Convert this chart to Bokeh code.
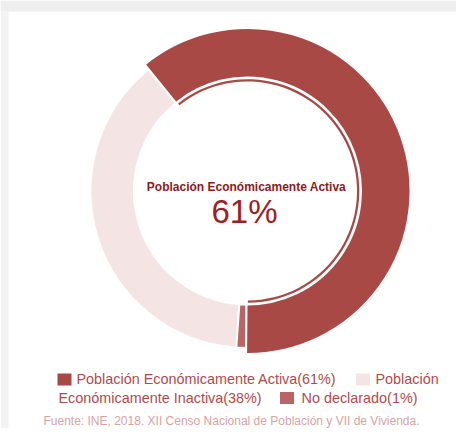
import numpy as np
from bokeh.plotting import figure
from bokeh.models import Range1d
from bokeh.core.properties import value
from bokeh.embed import file_html
from bokeh.resources import INLINE

# ---- data ----
categories = ["Población Económicamente Activa", "Población Económicamente Inactiva", "No declarado"]
values = [61, 38, 1]
colors = ["#a84945", "#f5e4e4", "#b96465"]
center_label = "Población Económicamente Activa"
center_value = "61%"
source_text = "Fuente: INE, 2018. XII Censo Nacional de Población y VII de Vivienda."

# ---- layout (pixel-like coordinates measured from the top-left) ----
W, H = 456, 428
def Y(py):
    return H - py

p = figure(width=W, height=H, output_backend="svg", toolbar_location=None,
           x_range=Range1d(0, W), y_range=Range1d(0, H),
           min_border=0, outline_line_color=None, background_fill_color="white",
           border_fill_color="white")
p.axis.visible = False
p.grid.visible = False

# grey page strips (card shadow area)
p.quad(left=0, right=W, bottom=Y(11), top=Y(0), fill_color="#eeeeee", line_color=None)
p.quad(left=0, right=8, bottom=Y(H), top=Y(11), fill_color="#f3f3f3", line_color=None)

# ---- donut ----
cx, cy = 247, Y(190.5)
start = np.deg2rad(-90.5)
vals = np.array(values, dtype=float)
frac = vals / vals.sum()
ends = start + np.cumsum(frac) * 2 * np.pi
starts = np.concatenate([[start], ends[:-1]])

outer = [163, 157, 157]
inner = [113.5, 113.5, 113.5]

order = [1, 2, 0]
for i in order:
    p.annular_wedge(x=cx, y=cy, inner_radius=inner[i], outer_radius=outer[i],
                    start_angle=starts[i], end_angle=ends[i],
                    fill_color=colors[i], line_color="white", line_width=2)

# thin emphasis arc inside the active slice
p.annular_wedge(x=cx, y=cy, inner_radius=109.5, outer_radius=111.8,
                start_angle=starts[0] + 0.012, end_angle=ends[0] - 0.012,
                fill_color=colors[0], line_color=None)

# ---- centre text ----
p.text(x=[246], y=[Y(186)], text=[center_label], text_align="center",
       text_baseline="middle", text_font=value("Liberation Sans"),
       text_font_style="bold", text_font_size="12px", text_color="#8e1a1a")
p.text(x=[244], y=[Y(211)], text=[center_value], text_align="center",
       text_baseline="middle", text_font=value("Liberation Sans"),
       text_font_size="33px", text_color="#9e1f1f")

# ---- legend ----
legend_labels = [f"{c}({v}%)" for c, v in zip(categories, values)]
first_word, rest = legend_labels[1].split(" ", 1)
leg_color = "#b24a4a"
sq_x = [64, 362.5, 286.5]
sq_y = [Y(379), Y(379), Y(397.5)]
p.rect(x=sq_x, y=sq_y, width=14, height=12, fill_color=colors, line_color=None)

txt_x = [76, 375, 58, 301]
txt_y = [Y(378.5), Y(378.5), Y(397.5), Y(397.5)]
txt = [legend_labels[0], first_word, rest, legend_labels[2]]
p.text(x=txt_x, y=txt_y, text=txt, text_align="left", text_baseline="middle",
       text_font=value("Liberation Sans"), text_font_size="14.4px", text_color=leg_color)

# ---- source ----
p.text(x=[43], y=[Y(420)], text=[source_text], text_align="left",
       text_baseline="middle", text_font=value("Liberation Sans"),
       text_font_size="12px", text_color="#d6a3a3")

open("out.html", "w").write(file_html(p, INLINE))
